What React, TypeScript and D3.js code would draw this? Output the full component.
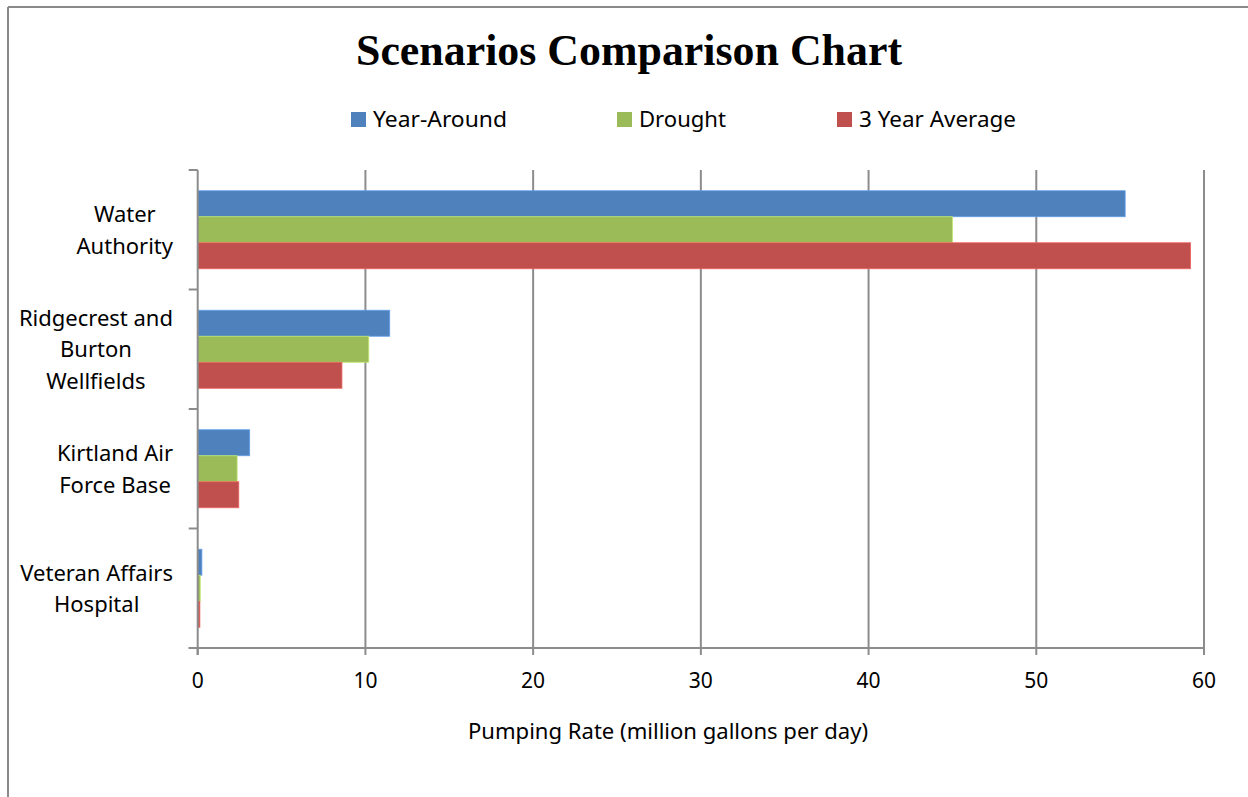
import React, { useEffect, useRef } from "react";
import * as d3 from "d3";

const categories = [
  "Water Authority",
  "Ridgecrest and Burton Wellfields",
  "Kirtland Air Force Base",
  "Veteran Affairs Hospital",
];
const categoryLines = [
  ["Water", "Authority"],
  ["Ridgecrest and", "Burton", "Wellfields"],
  ["Kirtland Air", "Force Base"],
  ["Veteran Affairs", "Hospital"],
];
const seriesNames = ["Year-Around", "Drought", "3 Year Average"];
const seriesColors = ["#4F81BD", "#9BBB59", "#C0504D"];
const yearAround = [55.3, 11.45, 3.1, 0.25];
const drought = [45.0, 10.2, 2.35, 0.15];
const threeYearAvg = [59.2, 8.6, 2.45, 0.13];
const xTicks = [0, 10, 20, 30, 40, 50, 60];
const title = "Scenarios Comparison Chart";
const xAxisTitle = "Pumping Rate (million gallons per day)";

const W = 1248;
const H = 797;
const FONT = "'Noto Sans', 'Open Sans', sans-serif";

export default function App() {
  const ref = useRef<SVGSVGElement | null>(null);

  useEffect(() => {
    const svg = d3.select(ref.current);
    svg.selectAll("*").remove();

    const plot = { left: 197.7, right: 1204, top: 170, bottom: 648 };
    const x = d3.scaleLinear().domain([0, 60]).range([plot.left, plot.right]);
    const y = d3
      .scaleBand<string>()
      .domain(categories)
      .range([plot.top, plot.bottom])
      .paddingInner(0)
      .paddingOuter(0);
    const bw = y.bandwidth();
    const pad = bw * 0.1735;
    const ys = d3
      .scaleBand<string>()
      .domain(seriesNames)
      .range([pad, bw - pad])
      .padding(0);

    const grid = "#8C8C8C";

    // outer frame (top + left)
    svg.append("line").attr("x1", 8).attr("x2", W).attr("y1", 7).attr("y2", 7)
      .attr("stroke", "#8A8A8A").attr("stroke-width", 2);
    svg.append("line").attr("x1", 8).attr("x2", 8).attr("y1", 7).attr("y2", H)
      .attr("stroke", "#8A8A8A").attr("stroke-width", 2);

    // title
    svg.append("text")
      .attr("x", 629).attr("y", 65)
      .attr("text-anchor", "middle")
      .attr("font-family", "'Liberation Serif', 'DejaVu Serif', serif")
      .attr("font-weight", "bold")
      .attr("font-size", 44)
      .attr("textLength", 546)
      .attr("lengthAdjust", "spacingAndGlyphs")
      .attr("fill", "#000")
      .text(title);

    // legend
    const legendX = [351, 617, 837];
    const legendTextLen = [134, 87, 157];
    seriesNames.forEach((s, i) => {
      const g = svg.append("g");
      g.append("rect").attr("x", legendX[i]).attr("y", 112).attr("width", 15).attr("height", 15)
        .attr("fill", seriesColors[i]);
      g.append("text").attr("x", legendX[i] + 22).attr("y", 127)
        .attr("font-family", FONT).attr("font-size", 21)
        .attr("textLength", legendTextLen[i]).attr("lengthAdjust", "spacingAndGlyphs")
        .attr("fill", "#000").text(s);
    });

    // gridlines
    xTicks.forEach((t) => {
      if (t === 0) return;
      svg.append("line").attr("x1", x(t)).attr("x2", x(t)).attr("y1", plot.top).attr("y2", plot.bottom)
        .attr("stroke", grid).attr("stroke-width", 2);
    });

    // bars
    const series = [yearAround, drought, threeYearAvg];
    series.forEach((vals, si) => {
      svg.append("g").selectAll("rect").data(vals).join("rect")
        .attr("x", x(0))
        .attr("y", (_d, i) => (y(categories[i]) as number) + (ys(seriesNames[si]) as number))
        .attr("width", (d) => x(d) - x(0))
        .attr("height", ys.bandwidth())
        .attr("fill", seriesColors[si])
        .attr("stroke", d3.color(seriesColors[si])!.brighter(0.6).toString())
        .attr("stroke-width", 0.8);
    });

    // y axis line and ticks
    svg.append("line").attr("x1", plot.left).attr("x2", plot.left).attr("y1", plot.top).attr("y2", plot.bottom + 7)
      .attr("stroke", grid).attr("stroke-width", 2);
    const yTickPos = categories.map((c) => y(c) as number).concat([plot.bottom]);
    yTickPos.forEach((p) => {
      svg.append("line").attr("x1", plot.left - 9).attr("x2", plot.left).attr("y1", p).attr("y2", p)
        .attr("stroke", grid).attr("stroke-width", 2);
    });

    // x axis line and ticks
    svg.append("line").attr("x1", plot.left - 9).attr("x2", plot.right).attr("y1", plot.bottom).attr("y2", plot.bottom)
      .attr("stroke", grid).attr("stroke-width", 2);
    xTicks.forEach((t) => {
      svg.append("line").attr("x1", x(t)).attr("x2", x(t)).attr("y1", plot.bottom).attr("y2", plot.bottom + 7)
        .attr("stroke", grid).attr("stroke-width", 2);
      svg.append("text").attr("x", x(t)).attr("y", 688)
        .attr("text-anchor", "middle").attr("font-family", FONT).attr("font-size", 21)
        .attr("fill", "#000").text(String(t));
    });

    // x axis title
    svg.append("text").attr("x", 668).attr("y", 739)
      .attr("text-anchor", "middle").attr("font-family", FONT).attr("font-size", 21)
      .attr("textLength", 400).attr("lengthAdjust", "spacingAndGlyphs")
      .attr("fill", "#000").text(xAxisTitle);

    // category labels: each block centered text, block right-aligned
    const blockRight = 173;
    const lineH = 31.5;
    categories.forEach((c, ci) => {
      const lines = categoryLines[ci];
      const g = svg.append("g");
      const texts = lines.map((l) =>
        g.append("text").attr("font-family", FONT).attr("font-size", 22).attr("fill", "#000")
          .attr("text-anchor", "middle").text(l)
      );
      const widths = texts.map((t) => (t.node() as SVGTextElement).getComputedTextLength());
      const bwid = Math.max(...widths);
      const cx = blockRight - bwid / 2;
      const cy = (y(c) as number) + bw / 2;
      const n = lines.length;
      texts.forEach((t, li) => {
        const off = (li - (n - 1) / 2) * lineH;
        t.attr("x", cx).attr("y", cy + off + 8);
      });
    });
  }, []);

  return (
    <svg
      ref={ref}
      width={W}
      height={H}
      style={{ position: "absolute", left: 0, top: 0, background: "#fff", display: "block" }}
    />
  );
}
